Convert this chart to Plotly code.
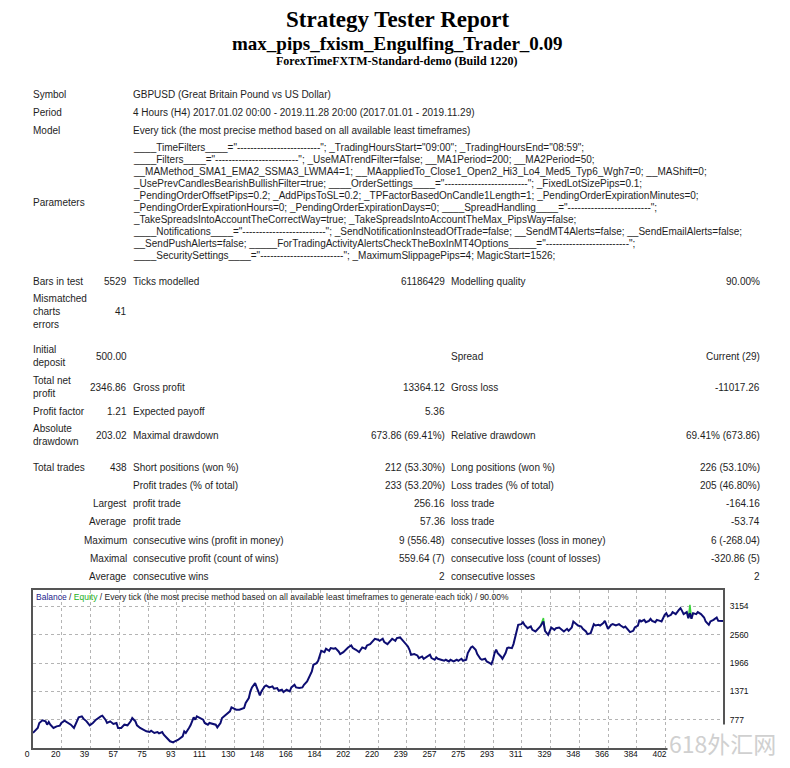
import plotly.graph_objects as go

# page body keeps an 8px margin, so the figure is drawn 16px smaller and coordinates are shifted
PAGE_MARGIN = 8
W, H = 790 - 2 * PAGE_MARGIN, 768 - 2 * PAGE_MARGIN

# ---------------- report text ----------------
report_title = 'Strategy Tester Report'
ea_name = 'max_pips_fxism_Engulfing_Trader_0.09'
server_name = 'ForexTimeFXTM-Standard-demo (Build 1220)'

header_labels = ['Symbol', 'Period', 'Model']
header_values = ['GBPUSD (Great Britain Pound vs US Dollar)',
                 '4 Hours (H4) 2017.01.02 00:00 - 2019.11.28 20:00 (2017.01.01 - 2019.11.29)',
                 'Every tick (the most precise method based on all available least timeframes)']

dash = '-' * 25
param_lines = [
    '____TimeFilters____="' + dash + '"; _TradingHoursStart="09:00"; _TradingHoursEnd="08:59";',
    '____Filters____="' + dash + '"; _UseMATrendFilter=false; __MA1Period=200; __MA2Period=50;',
    '__MAMethod_SMA1_EMA2_SSMA3_LWMA4=1; __MAappliedTo_Close1_Open2_Hi3_Lo4_Med5_Typ6_Wgh7=0; __MAShift=0;',
    '_UsePrevCandlesBearishBullishFilter=true; ____OrderSettings____="' + dash + '"; _FixedLotSizePips=0.1;',
    '_PendingOrderOffsetPips=0.2; _AddPipsToSL=0.2; _TPFactorBasedOnCandle1Length=1; _PendingOrderExpirationMinutes=0;',
    '_PendingOrderExpirationHours=0; _PendingOrderExpirationDays=0; ____SpreadHandling____="' + dash + '";',
    '_TakeSpreadsIntoAccountTheCorrectWay=true; _TakeSpreadsIntoAccountTheMax_PipsWay=false;',
    '____Notifications____="' + dash + '"; _SendNotificationInsteadOfTrade=false; __SendMT4Alerts=false; __SendEmailAlerts=false;',
    '__SendPushAlerts=false; _____ForTradingActivityAlertsCheckTheBoxInMT4Options_____="' + dash + '";',
    '____SecuritySettings____="' + dash + '"; _MaximumSlippagePips=4; MagicStart=1526;',
]

stats_rows = [
    ['Bars in test', '5529', 'Ticks modelled', '61186429', 'Modelling quality', '90.00%'],
    ['Mismatched<br>charts<br>errors', '41', '', '', '', ''],
    ['Initial<br>deposit', '500.00', '', '', 'Spread', 'Current (29)'],
    ['Total net<br>profit', '2346.86', 'Gross profit', '13364.12', 'Gross loss', '-11017.26'],
    ['Profit factor', '1.21', 'Expected payoff', '5.36', '', ''],
    ['Absolute<br>drawdown', '203.02', 'Maximal drawdown', '673.86 (69.41%)', 'Relative drawdown', '69.41% (673.86)'],
    ['Total trades', '438', 'Short positions (won %)', '212 (53.30%)', 'Long positions (won %)', '226 (53.10%)'],
    ['', '', 'Profit trades (% of total)', '233 (53.20%)', 'Loss trades (% of total)', '205 (46.80%)'],
    ['', 'Largest', 'profit trade', '256.16', 'loss trade', '-164.16'],
    ['', 'Average', 'profit trade', '57.36', 'loss trade', '-53.74'],
    ['', 'Maximum', 'consecutive wins (profit in money)', '9 (556.48)', 'consecutive losses (loss in money)', '6 (-268.04)'],
    ['', 'Maximal', 'consecutive profit (count of wins)', '559.64 (7)', 'consecutive loss (count of losses)', '-320.86 (5)'],
    ['', 'Average', 'consecutive wins', '2', 'consecutive losses', '2'],
]

# ---------------- balance graph data ----------------
trade_no = [0, 1, 3, 4, 6, 8, 9, 10, 11, 13, 15, 17, 18, 20, 22, 24, 26, 27, 29, 31,
            32, 34, 36, 38, 40, 43, 44, 46, 47, 49, 51, 53, 54, 56, 58, 60, 62, 63, 65, 66,
            68, 70, 72, 74, 75, 77, 79, 80, 82, 83, 85, 87, 89, 90, 92, 93, 95, 96, 97, 99,
            100, 102, 103, 104, 106, 108, 109, 111, 112, 114, 116, 117, 119, 120, 122, 123, 125, 126, 128, 129,
            131, 134, 135, 137, 138, 139, 141, 142, 143, 144, 145, 147, 148, 150, 152, 153, 155, 156, 158, 159,
            161, 163, 164, 166, 167, 169, 171, 172, 174, 175, 177, 178, 180, 181, 182, 183, 185, 186, 188, 189,
            191, 192, 194, 195, 197, 199, 200, 202, 203, 205, 207, 208, 209, 211, 212, 214, 216, 217, 219, 220,
            222, 223, 225, 227, 228, 230, 231, 233, 235, 236, 238, 239, 240, 242, 244, 245, 247, 248, 250, 252,
            253, 255, 256, 257, 259, 261, 262, 264, 265, 267, 269, 270, 272, 273, 275, 276, 278, 279, 281, 282,
            284, 285, 287, 288, 290, 291, 292, 293, 294, 295, 297, 298, 300, 301, 302, 304, 305, 306, 307, 308,
            310, 311, 312, 314, 316, 317, 319, 320, 321, 322, 324, 325, 327, 328, 329, 331, 332, 334, 336, 337,
            339, 340, 342, 343, 345, 346, 348, 349, 351, 352, 354, 355, 356, 357, 359, 360, 362, 363, 364, 365,
            367, 368, 370, 372, 373, 375, 376, 378, 379, 381, 382, 384, 385, 386, 388, 389, 391, 392, 393, 395,
            396, 398, 399, 401, 402, 403, 405, 406, 408, 410, 411, 412, 413, 415, 416, 417, 418, 419, 421, 422,
            424, 426, 427, 429, 430, 432, 434, 435, 438]

balance = [500, 533, 603, 708, 764, 743, 673, 729, 673, 603, 638, 652, 708, 757, 722, 673, 603, 673, 827, 848,
           799, 743, 659, 708, 778, 848, 862, 778, 708, 743, 687, 708, 603, 603, 673, 659, 743, 813, 743, 659,
           603, 568, 533, 519, 547, 498, 519, 491, 519, 463, 393, 324, 300, 324, 352, 379, 428, 533, 498, 603,
           659, 827, 778, 848, 813, 778, 708, 673, 708, 687, 673, 617, 708, 813, 869, 896, 952, 1036, 1008, 987,
           987, 1022, 1127, 1232, 1372, 1455, 1546, 1455, 1358, 1288, 1372, 1476, 1497, 1455, 1476, 1427, 1441, 1386, 1406, 1358,
           1406, 1372, 1455, 1511, 1455, 1441, 1455, 1511, 1581, 1665, 1791, 1930, 1965, 2014, 2140, 2224, 2196, 2266, 2224, 2280,
           2266, 2280, 2210, 2154, 2196, 2266, 2294, 2336, 2280, 2245, 2196, 2245, 2294, 2266, 2336, 2364, 2434, 2476, 2455, 2434,
           2476, 2406, 2364, 2434, 2476, 2434, 2490, 2504, 2434, 2385, 2315, 2245, 2140, 2154, 2126, 2070, 2105, 2056, 2105, 2140,
           2070, 2035, 2084, 2056, 2035, 2014, 2035, 2000, 2035, 2000, 2035, 2014, 2056, 2014, 2035, 2175, 2294, 2315, 2245, 2154,
           2056, 2035, 2056, 2000, 1965, 1944, 2035, 2175, 2245, 2175, 2105, 2056, 2175, 2280, 2294, 2280, 2364, 2490, 2629, 2769,
           2783, 2825, 2769, 2699, 2734, 2664, 2629, 2664, 2699, 2734, 2839, 2643, 2559, 2629, 2713, 2664, 2699, 2713, 2664, 2629,
           2685, 2643, 2713, 2839, 2783, 2755, 2734, 2685, 2629, 2573, 2594, 2699, 2783, 2755, 2769, 2755, 2804, 2853, 2755, 2685,
           2769, 2783, 2755, 2783, 2755, 2713, 2734, 2664, 2615, 2643, 2713, 2755, 2874, 2839, 2874, 2825, 2853, 2895, 2853, 2825,
           2874, 2853, 2839, 2979, 3014, 2944, 2979, 3035, 2993, 3083, 3118, 3062, 2993, 3035, 2909, 3014, 2895, 3014, 2993, 3035,
           2993, 2923, 2839, 2769, 2839, 2874, 2923, 2853, 2847]

# equity only shows where it leaves the balance line
equity_trade_no = [322, 324, 325, None, 416, 417, 418]
equity = [2734, 2910, 2643, None, 2909, 3190, 2895]

x_tick_labels = [0, 20, 39, 57, 75, 93, 111, 130, 148, 166, 184, 202, 220, 239, 257, 275,
                 293, 311, 329, 348, 366, 384, 402]
y_tick_labels = [777, 1371, 1966, 2560, 3154]
total_trades = 438


def px(x):
    return (x - PAGE_MARGIN) / W


def py(y):
    return 1 - (y - PAGE_MARGIN) / H


BODY = 'Liberation Sans'
TXT = '#1e1e1e'
anns = []


def text(x, y, s, anchor='left', size=10, color=TXT, family=BODY):
    anns.append(dict(x=px(x), y=py(y), xref='paper', yref='paper', text=s,
                     showarrow=False, xanchor=anchor, yanchor='middle', align=anchor,
                     borderpad=0, borderwidth=0,
                     font=dict(family=family, size=size, color=color)))


# titles
text(397, 20, '<b>' + report_title + '</b>', 'center', 23, '#000', 'Liberation Serif')
text(397, 43, '<b>' + ea_name + '</b>', 'center', 19, '#000', 'Liberation Serif')
text(397, 61, '<b>' + server_name + '</b>', 'center', 12, '#000', 'Liberation Serif')

for i, (lab, val) in enumerate(zip(header_labels, header_values)):
    yy = 94 + i * 18.3
    text(33, yy, lab)
    text(133, yy, val)

text(33, 203, 'Parameters')
for i, line in enumerate(param_lines):
    text(133, 147 + i * 12.1, line)

row_y = [282, 311, 356, 387, 411, 435, 467, 485, 503, 521, 540, 558, 576]
col_x = [(33, 'left'), (127, 'right'), (133, 'left'), (445, 'right'), (451, 'left'), (760, 'right')]
for yy, row in zip(row_y, stats_rows):
    for (cx, anc), s in zip(col_x, row):
        if s:
            text(cx, yy, s, anc)

# graph caption
text(36, 597, '<span style="color:#1c1c8c">Balance</span> / '
              '<span style="color:#22b022">Equity</span> / Every tick (the most precise method based on all '
              'available least timeframes to generate each tick) / 90.00%', 'left', 8.5)

# watermark
anns.append(dict(x=px(722), y=py(743), xref='paper', yref='paper', text='618外汇网',
                 showarrow=False, xanchor='center', yanchor='middle', bgcolor='white', borderpad=1,
                 font=dict(family='Noto Sans CJK SC', size=23, color='#d0d0d0')))

fig = go.Figure()
fig.add_trace(go.Scatter(x=equity_trade_no, y=equity, mode='lines', name='Equity',
                         line=dict(color='#3ad23a', width=1.5), hoverinfo='skip'))
fig.add_trace(go.Scatter(x=trade_no, y=balance, mode='lines', name='Balance',
                         line=dict(color='#0d0d72', width=2), hoverinfo='skip'))

fig.update_layout(
    width=W, height=H,
    margin=dict(l=0, r=0, t=0, b=0, pad=0, autoexpand=False),
    paper_bgcolor='white', plot_bgcolor='white',
    showlegend=False,
    annotations=anns,
    xaxis=dict(domain=[px(33), px(723)], range=[0, total_trades], automargin=False,
               tickmode='array',
               tickvals=[k * total_trades / 24 for k in range(len(x_tick_labels))],
               ticktext=[str(v) for v in x_tick_labels],
               ticklabelshift=-6, ticklabelstandoff=-3, ticks='',
               tickfont=dict(family=BODY, size=8.5, color='#111'),
               showgrid=True, gridcolor='#b4b4b4', griddash='dot', gridwidth=1,
               zeroline=False, showline=True, mirror=True, linecolor='#555', linewidth=2),
    yaxis=dict(domain=[py(748), py(590)], range=[183, 3500], side='right', automargin=False,
               tickmode='array', tickvals=y_tick_labels,
               ticktext=[str(v) for v in y_tick_labels],
               ticks='', ticklabelstandoff=3, tickfont=dict(family=BODY, size=8.5, color='#111'),
               showgrid=True, gridcolor='#b4b4b4', griddash='dot', gridwidth=1,
               zeroline=False, showline=True, mirror=True, linecolor='#555', linewidth=2),
)

fig.write_html("out.html")
